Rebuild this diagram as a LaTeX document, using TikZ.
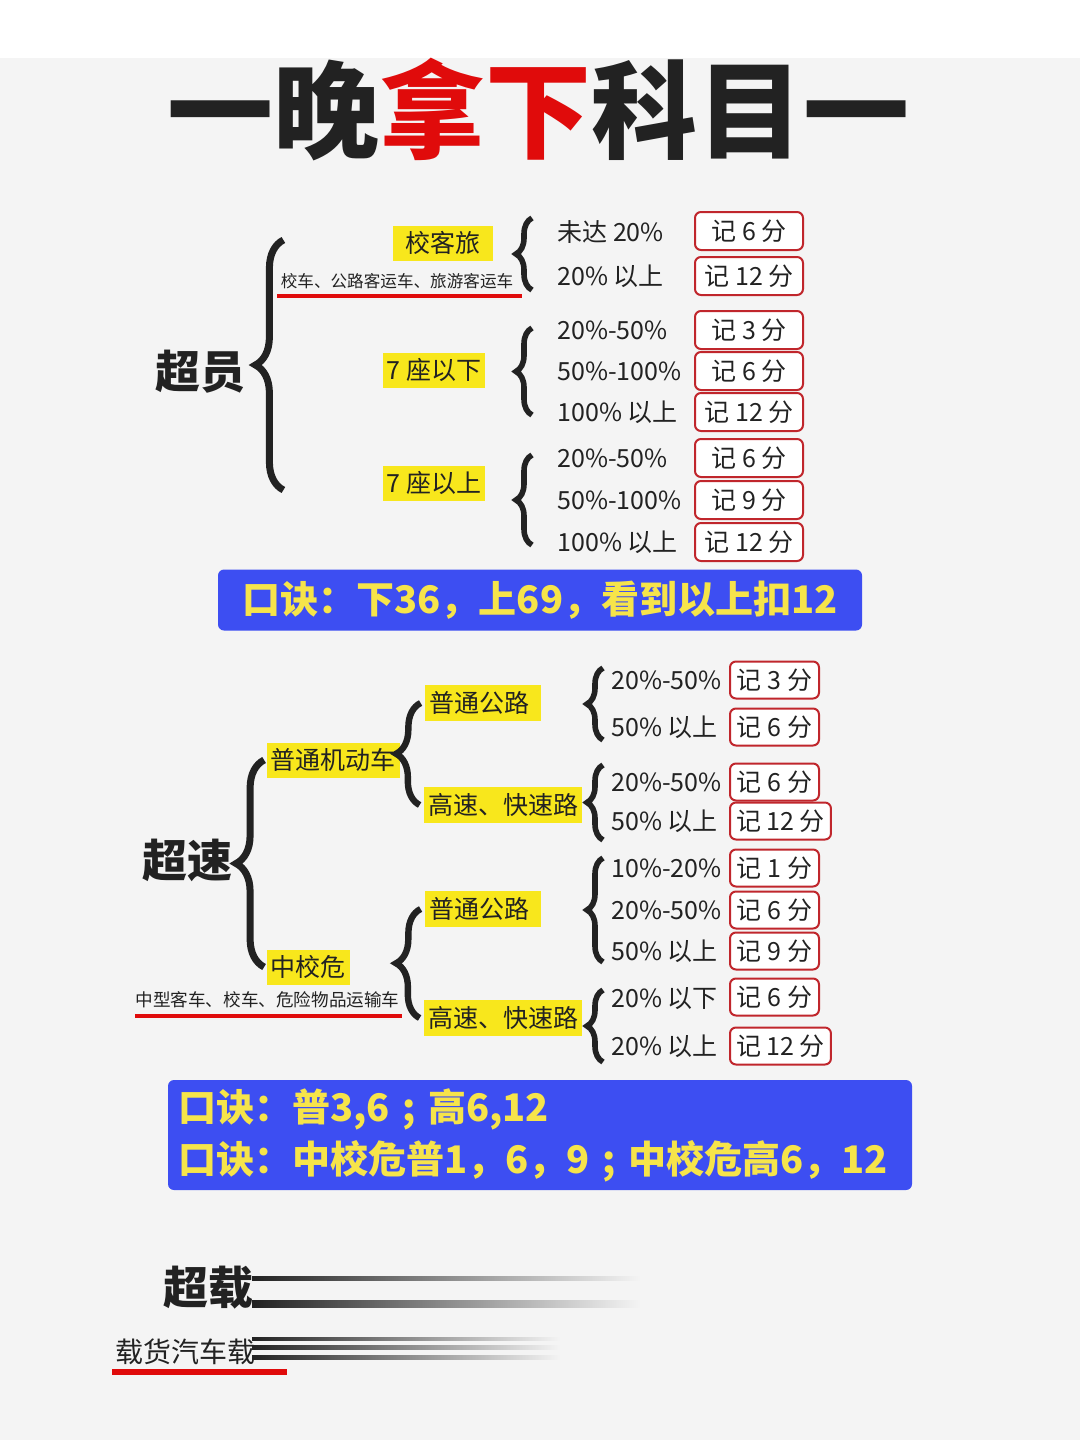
\documentclass[tikz,border=0pt]{standalone}
\usepackage{fontspec}
\setmainfont{Noto Sans CJK SC}
\usetikzlibrary{decorations.pathreplacing}
\definecolor{beijing}{HTML}{F4F4F4}
\definecolor{hei}{HTML}{222222}
\definecolor{hong}{HTML}{E00B0B}
\definecolor{huang}{HTML}{F8E71C}
\definecolor{lan}{HTML}{3D4EF2}
\definecolor{zihuang}{HTML}{F6E44A}
\definecolor{kuanghong}{HTML}{C0262C}
\newcommand{\zihao}[1]{\fontsize{#1}{#1}\selectfont}

\begin{document}
\begin{tikzpicture}[
  x=0.5pt, y=-0.5pt,
  biaoti/.style={font=\zihao{53}\bfseries, text=hei, inner sep=0},
  dalei/.style={font=\zihao{22.5}\bfseries, text=hei, inner sep=0},
  huangdi/.style={fill=huang, inner xsep=2pt, inner ysep=0pt, minimum height=17.5pt, font=\zihao{12.5}, text=hei},
  xiaozi/.style={font=\zihao{8.3}, text=hei, inner sep=0},
  tiaojian/.style={font=\zihao{12.5}, text=hei, inner sep=0, anchor=west},
  jifen/.style={draw=kuanghong, line width=1pt, fill=white, rounded corners=3pt, font=\zihao{12.5}, text=hei, minimum width=54pt, minimum height=19pt, inner sep=0},
  jifenb/.style={jifen, minimum width=44.5pt, minimum height=18.5pt, inner xsep=3pt, anchor=west},
  kuohao/.style={decorate, decoration={brace, amplitude=#1}, line width=2.8pt, draw=hei},
  kuohao/.default=8pt,
  koujue/.style={fill=lan, rounded corners=3pt, text=zihuang, font=\zihao{19}\bfseries},
  hongxian/.style={draw=hong, line width=2pt},
  sudu/.style={left color=hei, right color=beijing}
]
% background
\fill[beijing] (0,0) rectangle (1080,1440);
\fill[white] (0,0) rectangle (1080,58);
\useasboundingbox (0,0) rectangle (1080,1440);

\node[biaoti] (biaoti) at (538,110) {一晚\textcolor{hong}{拿下}科目一};

% chaoyuan
\node[dalei] (chaoyuan) at (200,372) {超员};
\node[huangdi, minimum width=50pt] (xiaokelv) at (443,243) {校客旅};
\node[xiaozi] (xklquan) at (397,281) {校车、公路客运车、旅游客运车};
\draw[hongxian] (277,296) -- (522,296);
\node[huangdi] (xia7) at (434,370) {7 座以下};
\node[huangdi] (shang7) at (434,483) {7 座以上};
\draw[kuohao=14pt, line width=3.5pt] ([shift={(38,118)}]chaoyuan.east) -- ([shift={(38,-132)}]chaoyuan.east);

\node[tiaojian] (a1) at (557,232) {未达 20\%};
\node[tiaojian] (a2) at (557,276) {20\% 以上};
\node[jifen] (fa1) at (749,231) {记 6 分};
\node[jifen] (fa2) at (749,276) {记 12 分};
\draw[kuohao] ([shift={(-25,14)}]a2.west) -- ([shift={(-25,-14)}]a1.west);

\node[tiaojian] (b1) at (557,330) {20\%-50\%};
\node[tiaojian] (b2) at (557,371) {50\%-100\%};
\node[tiaojian] (b3) at (557,412) {100\% 以上};
\node[jifen] (fb1) at (749,330) {记 3 分};
\node[jifen] (fb2) at (749,371) {记 6 分};
\node[jifen] (fb3) at (749,412) {记 12 分};
\draw[kuohao] ([shift={(-25,3)}]b3.west) -- ([shift={(-25,-2)}]b1.west);

\node[tiaojian] (c1) at (557,458) {20\%-50\%};
\node[tiaojian] (c2) at (557,500) {50\%-100\%};
\node[tiaojian] (c3) at (557,542) {100\% 以上};
\node[jifen] (fc1) at (749,458) {记 6 分};
\node[jifen] (fc2) at (749,500) {记 9 分};
\node[jifen] (fc3) at (749,542) {记 12 分};
\draw[kuohao] ([shift={(-25,3)}]c3.west) -- ([shift={(-25,-3)}]c1.west);

\node[koujue, minimum width=322pt, minimum height=30.5pt] (koujue1) at (540,600) {口诀：下36，上69，看到以上扣12};

% chaosu
\node[dalei] (chaosu) at (187,860) {超速};
\node[huangdi] (jidongche) at (333,760) {普通机动车};
\node[huangdi] (zhongxiaowei) at (308,967) {中校危};
\node[xiaozi, font=\zihao{8.8}, anchor=west] (zxwquan) at (135,1000) {中型客车、校车、危险物品运输车};
\draw[hongxian] (135,1016) -- (402,1016);
\draw[kuohao=14pt, line width=3.5pt] ([xshift=-1]zhongxiaowei.west) -- ([xshift=-1]jidongche.west);

\node[huangdi, minimum height=18pt, text width=54pt, align=left] (putong1) at (483,703) {普通公路};
\node[huangdi, minimum height=18pt] (gaosu1) at (503,805) {高速、快速路};
\node[huangdi, minimum height=18pt, text width=54pt, align=left] (putong2) at (483,909) {普通公路};
\node[huangdi, minimum height=18pt] (gaosu2) at (503,1018) {高速、快速路};
\draw[kuohao=12pt, line width=3.2pt] ([xshift=-2]gaosu1.west) -- ([xshift=-2]putong1.west);
\draw[kuohao=12pt, line width=3.2pt] ([xshift=-2]gaosu2.west) -- ([xshift=-2]putong2.west);

\node[tiaojian] (d1) at (611,680) {20\%-50\%};
\node[tiaojian] (d2) at (611,727) {50\% 以上};
\node[jifenb] (fd1) at (729,680) {记 3 分};
\node[jifenb] (fd2) at (729,727) {记 6 分};
\draw[kuohao] ([shift={(-8,13)}]d2.west) -- ([shift={(-8,-12)}]d1.west);

\node[tiaojian] (e1) at (611,782) {20\%-50\%};
\node[tiaojian] (e2) at (611,821) {50\% 以上};
\node[jifenb] (fe1) at (729,782) {记 6 分};
\node[jifenb] (fe2) at (729,821) {记 12 分};
\draw[kuohao] ([shift={(-8,19)}]e2.west) -- ([shift={(-8,-17)}]e1.west);

\node[tiaojian] (f1) at (611,868) {10\%-20\%};
\node[tiaojian] (f2) at (611,910) {20\%-50\%};
\node[tiaojian] (f3) at (611,951) {50\% 以上};
\node[jifenb] (ff1) at (729,868) {记 1 分};
\node[jifenb] (ff2) at (729,910) {记 6 分};
\node[jifenb] (ff3) at (729,951) {记 9 分};
\draw[kuohao] ([shift={(-8,11)}]f3.west) -- ([shift={(-8,-10)}]f1.west);

\node[tiaojian] (g1) at (611,999) {20\% 以下};
\node[tiaojian] (g2) at (611,1046) {20\% 以上};
\node[jifenb] (fg1) at (729,997) {记 6 分};
\node[jifenb] (fg2) at (729,1046) {记 12 分};
\draw[kuohao] ([shift={(-8,16)}]g2.west) -- ([shift={(-8,-9)}]g1.west);

\node[koujue, font=\fontsize{19}{26}\selectfont\bfseries, minimum height=55pt, text width=362pt, align=left, inner xsep=5pt] (koujue2) at (540,1135) {口诀：普3,6 ; 高6,12\\口诀：中校危普1，6，9 ; 中校危高6，12};

% chaozai
\shade[sudu] (252,1276) rectangle (640,1280);
\shade[sudu] (252,1300) rectangle (640,1307);
\shade[sudu] (252,1337) rectangle (560,1340);
\shade[sudu] (252,1345) rectangle (560,1349);
\shade[sudu] (252,1355) rectangle (560,1359);
\node[dalei] (chaozai) at (208,1288) {超载};
\node[font=\zihao{14}, text=hei, inner sep=0] (huoche) at (185,1352) {载货汽车载};
\draw[hongxian, line width=3pt] (112,1372) -- (287,1372);
\end{tikzpicture}
\end{document}
